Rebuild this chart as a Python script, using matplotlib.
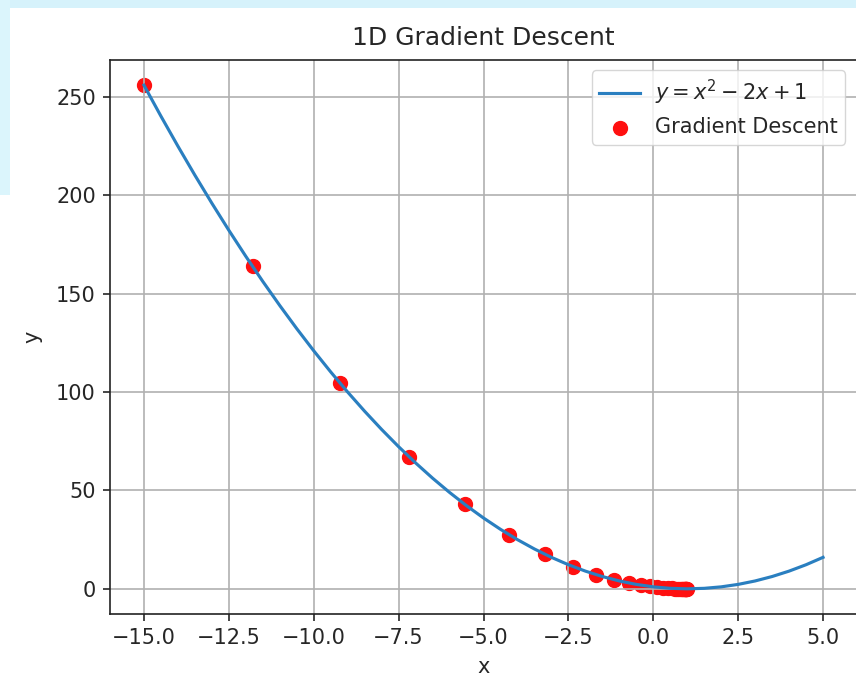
import matplotlib
matplotlib.use("Agg")
import matplotlib.pyplot as plt
from matplotlib.patches import Rectangle

# Curve y = x^2 - 2x + 1 sampled values
curve_x = [-15.0, -14.5, -14.0, -13.5, -13.0, -12.5, -12.0, -11.5, -11.0, -10.5,
           -10.0, -9.5, -9.0, -8.5, -8.0, -7.5, -7.0, -6.5, -6.0, -5.5,
           -5.0, -4.5, -4.0, -3.5, -3.0, -2.5, -2.0, -1.5, -1.0, -0.5,
           0.0, 0.5, 1.0, 1.5, 2.0, 2.5, 3.0, 3.5, 4.0, 4.5, 5.0]
curve_y = [256.0, 240.25, 225.0, 210.25, 196.0, 182.25, 169.0, 156.25, 144.0, 132.25,
           121.0, 110.25, 100.0, 90.25, 81.0, 72.25, 64.0, 56.25, 49.0, 42.25,
           36.0, 30.25, 25.0, 20.25, 16.0, 12.25, 9.0, 6.25, 4.0, 2.25,
           1.0, 0.25, 0.0, 0.25, 1.0, 2.25, 4.0, 6.25, 9.0, 12.25, 16.0]

# Gradient descent iterates
gd_x = [-15.0, -11.8, -9.24, -7.19, -5.55, -4.24, -3.19, -2.36, -1.68, -1.15,
        -0.72, -0.37, -0.10, 0.12, 0.30, 0.44, 0.55, 0.64, 0.71, 0.77,
        0.82, 0.85, 0.88, 0.91, 0.93, 0.94, 0.95, 0.96, 0.97, 0.98]
gd_y = [256.0, 163.84, 104.86, 67.11, 42.95, 27.49, 17.59, 11.26, 7.21, 4.61,
        2.95, 1.89, 1.21, 0.77, 0.49, 0.32, 0.20, 0.13, 0.08, 0.05,
        0.03, 0.02, 0.01, 0.01, 0.01, 0.0, 0.0, 0.0, 0.0, 0.0]

W, H = 856, 676
TXT = "#262626"
plt.rcParams["text.color"] = TXT
plt.rcParams["axes.labelcolor"] = TXT
plt.rcParams["xtick.color"] = TXT
plt.rcParams["ytick.color"] = TXT

fig = plt.figure(figsize=(W / 100, H / 100), dpi=100)
fig.patch.set_facecolor("white")

# screenshot background strips
fig.patches.append(Rectangle((0, 1 - 8 / H), 1, 8 / H, transform=fig.transFigure,
                             facecolor="#d6f2fb", edgecolor="none", zorder=-10))
fig.patches.append(Rectangle((0, 1 - 195 / H), 10 / W, 195 / H, transform=fig.transFigure,
                             facecolor="#dbf5fc", edgecolor="none", zorder=-10))

ax = fig.add_axes([110 / W, 62 / H, 747 / W, 554 / H])
ax.plot(curve_x, curve_y, color="#2a7fc0", lw=2.25, label=r"$y = x^2 - 2x + 1$")
ax.scatter(gd_x, gd_y, color="#ff1010", s=100, label="Gradient Descent")

ax.set_title("1D Gradient Descent", fontsize=18, pad=11)
ax.set_xlabel("x", fontsize=15, labelpad=6)
ax.set_ylabel("y", fontsize=15, labelpad=10)
ax.tick_params(labelsize=15, length=5.25, width=1.2, pad=5)
for s in ax.spines.values():
    s.set_linewidth(1.2)
    s.set_color("#222222")
ax.grid(True, color="#b0b0b0", lw=1.2)
ax.set_xticks([-15.0, -12.5, -10.0, -7.5, -5.0, -2.5, 0.0, 2.5, 5.0])
ax.set_yticks([0, 50, 100, 150, 200, 250])
ax.set_xlim(-16, 6)
ax.set_ylim(-12.8, 268.8)
ax.legend(loc="upper right", fontsize=15, bbox_to_anchor=(0.998, 1.0),
          handletextpad=0.7, borderpad=0.35)

fig.savefig("out.png", dpi=100)
